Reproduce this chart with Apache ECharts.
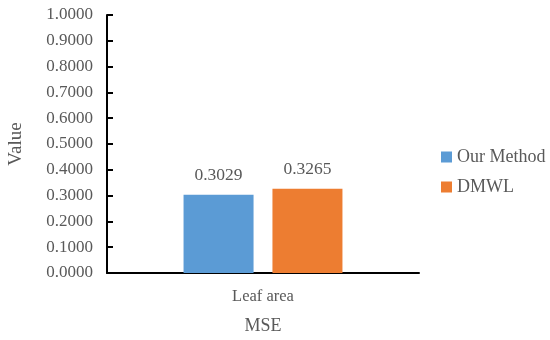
<!DOCTYPE html>
<html><head><meta charset="utf-8">
<script src="https://cdn.jsdelivr.net/npm/echarts@6/dist/echarts.min.js"></script>
<style>html,body{margin:0;padding:0;background:#fff}#c{width:550px;height:340px}</style>
</head><body><div id="c"></div>
<script>
const categories = ['Leaf area'];
const seriesNames = ['Our Method', 'DMWL'];
const ourMethod = [0.3029];
const dmwl = [0.3265];
const yTicks = [0, 0.1, 0.2, 0.3, 0.4, 0.5, 0.6, 0.7, 0.8, 0.9, 1.0];

const font = 'Liberation Serif';
const txt = '#595959';
const chart = echarts.init(document.getElementById('c'), null, {renderer: 'canvas'});
const labelCfg = {show: true, position: 'top', distance: 10, color: txt, fontFamily: font, fontSize: 17.5, formatter: p => p.value.toFixed(4)};
chart.setOption({
  animation: false,
  backgroundColor: '#fff',
  grid: {left: 107, right: 131, top: 15, bottom: 67, outerBoundsMode: 'none', containLabel: false},
  legend: {
    orient: 'vertical', left: 436, top: 143, itemWidth: 11, itemHeight: 11, itemGap: 12, icon: 'rect',
    textStyle: {color: txt, fontFamily: font, fontSize: 18},
    data: seriesNames
  },
  xAxis: {
    type: 'category', data: categories,
    name: 'MSE', nameLocation: 'middle', nameGap: 44,
    nameTextStyle: {color: txt, fontFamily: font, fontSize: 18},
    axisLine: {lineStyle: {color: '#000', width: 2}},
    axisTick: {show: false},
    axisLabel: {color: txt, fontFamily: font, fontSize: 16.5, margin: 15}
  },
  yAxis: {
    type: 'value', min: 0, max: 1, interval: 0.1,
    name: 'Value', nameLocation: 'middle', nameGap: 81, nameRotate: 90,
    nameTextStyle: {color: txt, fontFamily: font, fontSize: 19},
    axisLine: {show: true, lineStyle: {color: '#000', width: 2}},
    axisTick: {show: true, inside: true, length: 6, lineStyle: {color: '#000', width: 2}},
    splitLine: {show: false},
    axisLabel: {color: txt, fontFamily: font, fontSize: 17, margin: 14, formatter: v => v.toFixed(4)}
  },
  series: [
    {name: seriesNames[0], type: 'bar', data: ourMethod, barWidth: 70, barGap: '27%', itemStyle: {color: '#5B9BD5'}, label: labelCfg},
    {name: seriesNames[1], type: 'bar', data: dmwl, barWidth: 70, itemStyle: {color: '#ED7D31'}, label: labelCfg}
  ]
});
</script></body></html>
